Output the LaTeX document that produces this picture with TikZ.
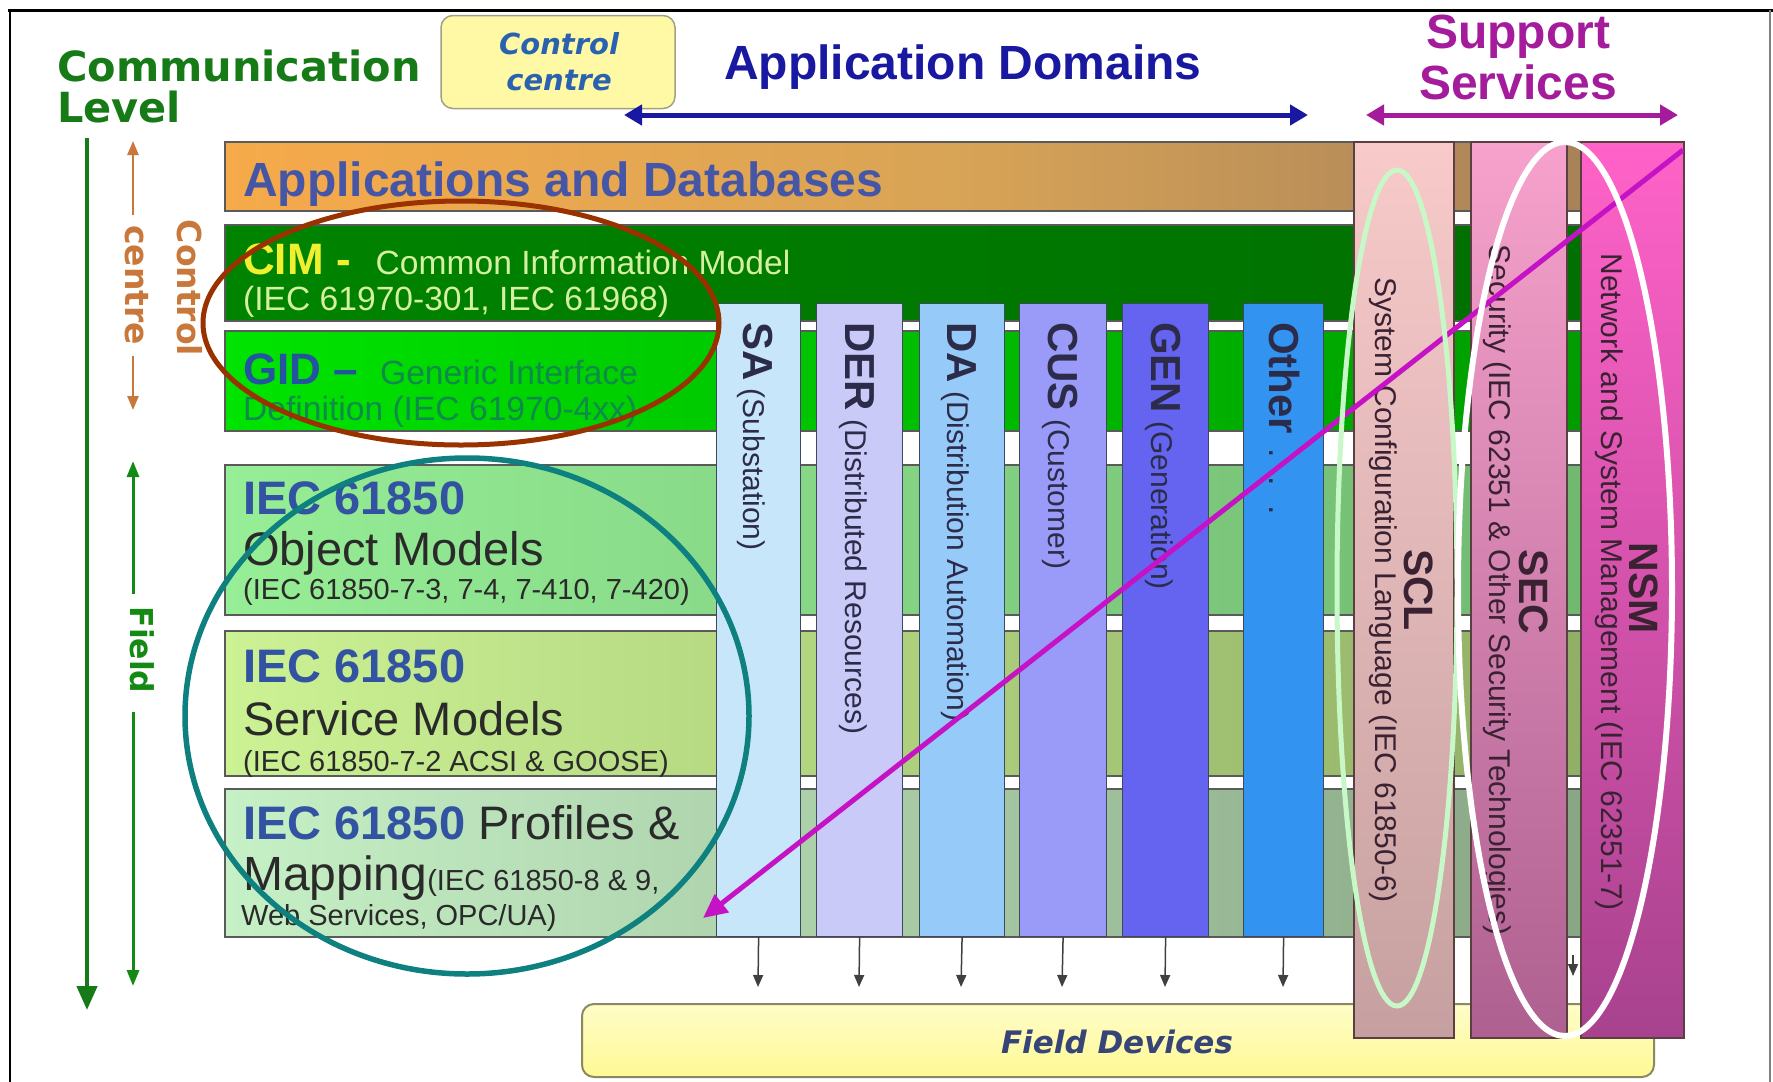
\documentclass[tikz,border=0pt]{standalone}
\usepackage{fontspec}
\setmainfont{Liberation Sans}
\newfontfamily\dvsans{DejaVu Sans}
\usetikzlibrary{arrows.meta}
\newcommand\myfs[1]{\fontsize{#1}{#1}\selectfont}
\definecolor{commgreen}{HTML}{167A16}
\definecolor{ctrlblue}{HTML}{2A62B0}
\definecolor{appblue}{HTML}{1818A0}
\definecolor{suppurple}{HTML}{A41C9C}
\definecolor{orangeC}{HTML}{C8783A}
\definecolor{fieldgreen}{HTML}{148A14}
\definecolor{barline}{HTML}{5A5A5A}
\definecolor{appsL}{HTML}{F6AA4A}
\definecolor{appsM}{HTML}{D8A456}
\definecolor{appsR}{HTML}{A07C5A}
\definecolor{appsText}{HTML}{4656A6}
\definecolor{cimL}{HTML}{008400}
\definecolor{cimR}{HTML}{006E00}
\definecolor{cimY}{HTML}{F0F030}
\definecolor{cimT}{HTML}{D4F0A0}
\definecolor{gidL}{HTML}{00E400}
\definecolor{gidR}{HTML}{009600}
\definecolor{gidB}{HTML}{2454A0}
\definecolor{gidT}{HTML}{0E8A4A}
\definecolor{objL}{HTML}{96EE96}
\definecolor{objR}{HTML}{6EB46E}
\definecolor{srvL}{HTML}{CCF294}
\definecolor{srvR}{HTML}{8CAA62}
\definecolor{prfL}{HTML}{C6F0C6}
\definecolor{prfR}{HTML}{84A080}
\definecolor{iecblue}{HTML}{3252A2}
\definecolor{darktxt}{HTML}{2A2A2A}
\definecolor{saC}{HTML}{C8E6FA}
\definecolor{derC}{HTML}{CACAF8}
\definecolor{daC}{HTML}{96CAF8}
\definecolor{cusC}{HTML}{9A9AF8}
\definecolor{genC}{HTML}{6464F0}
\definecolor{othC}{HTML}{3294F0}
\definecolor{colline}{HTML}{3E4A5A}
\definecolor{coltxt}{HTML}{2C2C4A}
\definecolor{sclT}{HTML}{F8CACA}
\definecolor{sclB}{HTML}{C6A0A0}
\definecolor{secT}{HTML}{F6A2CC}
\definecolor{secB}{HTML}{AE6090}
\definecolor{nsmT}{HTML}{FF62C8}
\definecolor{nsmB}{HTML}{A8428E}
\definecolor{suptext}{HTML}{3A2233}
\definecolor{supline}{HTML}{5A4040}
\definecolor{magentaC}{HTML}{C412C4}
\definecolor{ellBrown}{HTML}{9A3200}
\definecolor{ellTeal}{HTML}{0E8080}
\definecolor{ellGreen}{HTML}{C8F8C8}
\definecolor{fdFill}{HTML}{FFF994}
\definecolor{fdTop}{HTML}{FFFCC8}
\definecolor{fdBorder}{HTML}{8A8A62}
\definecolor{fdText}{HTML}{364478}
\definecolor{ccFill}{HTML}{FFF9A6}
\definecolor{ccBorder}{HTML}{A0A082}
\definecolor{arrgray}{HTML}{404040}
\begin{document}
\begin{tikzpicture}[x=1pt,y=-1pt,
  bar/.style={draw=barline,line width=1.5pt,anchor=north west,inner sep=0pt,minimum width=1459pt},
  dcol/.style={draw=colline,line width=1.2pt,anchor=north west,inner sep=0pt,minimum height=633pt},
  scol/.style={draw=supline,line width=1.5pt,anchor=north west,inner sep=0pt,minimum height=896pt},
  coltext/.style={rotate=-90,anchor=base west,inner sep=0pt,text=coltxt,font=\myfs{30}},
  suptitle/.style={rotate=-90,anchor=base,inner sep=0pt,text=suptext,font=\bfseries\myfs{41}},
  supsub/.style={rotate=-90,anchor=base,inner sep=0pt,text=suptext,font=\myfs{30}},
  lbl/.style={anchor=base west,inner sep=0pt},
  sidelbl/.style={rotate=-90,anchor=base,inner sep=0pt,font=\dvsans\bfseries\myfs{33}},
  dnarr/.style={draw=arrgray,line width=1.5pt,-{Triangle[length=12pt,width=10pt]}},
  dblarr/.style={line width=5pt,{Triangle[length=18pt,width=20pt]}-{Triangle[length=18pt,width=20pt]}},
  ell/.style={line width=5pt}
]
\useasboundingbox (0,0) rectangle (1773,1082);
\fill[white] (0,0) rectangle (1773,1082);

% frame
\draw[line width=3pt] (8,10) -- (1773,10);
\draw[line width=1.5pt] (10,10) -- (10,1082);
\draw[line width=1.5pt,gray] (1770,10) -- (1770,1082);

% titles
\node[lbl,text=commgreen,font=\dvsans\bfseries\myfs{41.5}] (tComm) at (57,81) {Communication};
\node[lbl,text=commgreen,font=\dvsans\bfseries\myfs{41.5}] (tLevel) at (57,122) {Level};
\node[draw=ccBorder,line width=1.5pt,fill=ccFill,rounded corners=12pt,minimum width=234pt,minimum height=93pt,inner sep=0pt] (ccbox) at (558,62) {};
\node[anchor=base,inner sep=0pt,text=ctrlblue,font=\dvsans\bfseries\itshape\myfs{29}] (tCtl) at (559,54) {Control};
\node[anchor=base,inner sep=0pt,text=ctrlblue,font=\dvsans\bfseries\itshape\myfs{29}] (tCtr) at (559,90) {centre};
\node[lbl,text=appblue,font=\bfseries\myfs{48}] (tAppDom) at (724,79) {Application Domains};
\node[anchor=base,inner sep=0pt,text=suppurple,font=\bfseries\myfs{48}] (tSup) at (1518,48) {Support};
\node[anchor=base,inner sep=0pt,text=suppurple,font=\bfseries\myfs{48}] (tServ) at (1518,99) {Services};
\coordinate (adL) at (624,115); \coordinate (adR) at (1308,115);
\draw[dblarr,appblue] (adL) -- (adR);
\coordinate (ssL) at (1366,115); \coordinate (ssR) at (1678,115);
\draw[dblarr,suppurple] (ssL) -- (ssR);

% left level arrows
\coordinate (clTop) at (87,138); \coordinate (clBot) at (87,1010);
\draw[line width=4.5pt,commgreen,-{Triangle[length=24pt,width=20pt]}] (clTop) -- (clBot);
\node[sidelbl,text=orangeC] (tCentre) at (125,285) {centre};
\node[sidelbl,text=orangeC] (tControl) at (177,288) {Control};
\coordinate (ccA) at (133,215); \coordinate (ccUp) at (133,141);
\coordinate (ccB) at (133,356); \coordinate (ccDown) at (133,410);
\draw[orangeC,line width=2.5pt,-{Triangle[length=14pt,width=11pt]}] (ccA) -- (ccUp);
\draw[orangeC,line width=2.5pt,-{Triangle[length=14pt,width=11pt]}] (ccB) -- (ccDown);
\node[sidelbl,text=fieldgreen,font=\dvsans\bfseries\myfs{31.5}] (tField) at (130,650) {Field};
\coordinate (fA) at (133,594); \coordinate (fUp) at (133,461);
\coordinate (fB) at (133,712); \coordinate (fDown) at (133,986);
\draw[fieldgreen,line width=3pt,-{Triangle[length=16pt,width=12pt]}] (fA) -- (fUp);
\draw[fieldgreen,line width=3pt,-{Triangle[length=16pt,width=12pt]}] (fB) -- (fDown);

% horizontal layers
\node[bar,minimum height=69pt,left color=appsL,right color=appsR,middle color=appsM] (apps) at (224,141) {};
\node[bar,minimum height=96pt,left color=cimL,right color=cimR] (cim) at (224,224) {};
\node[bar,minimum height=100pt,left color=gidL,right color=gidR] (gid) at (224,330) {};
\node[bar,minimum height=150pt,left color=objL,right color=objR] (obj) at (224,464) {};
\node[bar,minimum height=145pt,left color=srvL,right color=srvR] (srv) at (224,630) {};
\node[bar,minimum height=148pt,left color=prfL,right color=prfR] (prf) at (224,788) {};

\node[lbl,text=appsText,font=\bfseries\myfs{48}] (tApps) at (243,196) {Applications and Databases};
\node[lbl] (tCim1) at (243,274) {{\bfseries\myfs{44}\color{cimY}CIM -}\hspace{25pt}{\myfs{33.6}\color{cimT}Common Information Model}};
\node[lbl,text=cimT,font=\myfs{33.6}] (tCim2) at (243,310) {(IEC 61970-301, IEC 61968)};
\node[lbl] (tGid1) at (243,384) {{\bfseries\myfs{44}\color{gidB}GID --}\hspace{22pt}{\myfs{33.6}\color{gidT}Generic Interface}};
\node[lbl,text=gidT,font=\myfs{33.6}] (tGid2) at (243,420) {Definition (IEC 61970-4xx)};
\node[lbl,text=iecblue,font=\bfseries\myfs{47}] (tObj1) at (243,514) {IEC 61850};
\node[lbl,text=darktxt,font=\myfs{47}] (tObj2) at (243,565) {Object Models};
\node[lbl,text=darktxt,font=\myfs{29}] (tObj3) at (243,599) {(IEC 61850-7-3, 7-4, 7-410, 7-420)};
\node[lbl,text=iecblue,font=\bfseries\myfs{47}] (tSrv1) at (243,682) {IEC 61850};
\node[lbl,text=darktxt,font=\myfs{47}] (tSrv2) at (243,735) {Service Models};
\node[lbl,text=darktxt,font=\myfs{29}] (tSrv3) at (243,771) {(IEC 61850-7-2 ACSI \& GOOSE)};
\node[lbl,text=darktxt,font=\myfs{47}] (tPrf1) at (243,839) {{\bfseries\color{iecblue}IEC 61850} Profiles \&};
\node[lbl,text=darktxt] (tPrf2) at (243,890) {{\myfs{48}Mapping}{\myfs{29}(IEC 61850-8 \& 9,}};
\node[lbl,text=darktxt,font=\myfs{29}] (tPrf3) at (241,925) {Web Services, OPC/UA)};

% field devices
\node[draw=fdBorder,line width=2pt,rounded corners=12pt,top color=fdTop,bottom color=fdFill,anchor=north west,minimum width=1072pt,minimum height=73pt,inner sep=0pt] (fd) at (581,1003) {};
\node[inner sep=0pt,text=fdText,font=\dvsans\bfseries\itshape\myfs{31}] (tFD) at (1117,1042) {Field Devices};

% domain columns
\node[dcol,fill=saC,minimum width=84pt] (sa) at (716,303) {};
\node[dcol,fill=derC,minimum width=86pt] (der) at (816,303) {};
\node[dcol,fill=daC,minimum width=85pt] (da) at (919,303) {};
\node[dcol,fill=cusC,minimum width=87pt] (cus) at (1019,303) {};
\node[dcol,fill=genC,minimum width=86pt] (gen) at (1122,303) {};
\node[dcol,fill=othC,minimum width=80pt] (oth) at (1243,303) {};
\node[coltext] (tSA) at (743,322) {{\bfseries\myfs{42}SA} (Substation)};
\node[coltext] (tDER) at (845,322) {{\bfseries\myfs{42}DER} (Distributed Resources)};
\node[coltext] (tDA) at (947,322) {{\bfseries\myfs{42}DA} (Distribution Automation)};
\node[coltext] (tCUS) at (1048,322) {{\bfseries\myfs{42}CUS} (Customer)};
\node[coltext] (tGEN) at (1151,322) {{\bfseries\myfs{42}GEN} (Generation)};
\node[coltext] (tOth) at (1269,322) {{\bfseries\myfs{42}Other}\hspace{14pt}{\myfs{34}.\hspace{19pt}.\hspace{19pt}.}};

\coordinate (fdA) at (758,987); \coordinate (fdB) at (859,987);
\coordinate (fdC) at (961,987); \coordinate (fdD) at (1062,987);
\coordinate (fdE) at (1165,987); \coordinate (fdF) at (1283,987);
\draw[dnarr] (sa.south) -- (fdA);
\draw[dnarr] (der.south) -- (fdB);
\draw[dnarr] (da.south) -- (fdC);
\draw[dnarr] (cus.south) -- (fdD);
\draw[dnarr] (gen.south) -- (fdE);
\draw[dnarr] (oth.south) -- (fdF);
\coordinate (gapA) at (1573,955); \coordinate (gapB) at (1573,976);
\draw[dnarr] (gapA) -- (gapB);

% support columns
\node[scol,top color=sclT,bottom color=sclB,minimum width=100pt] (scl) at (1353,141) {};
\node[scol,top color=secT,bottom color=secB,minimum width=96pt] (sec) at (1470,141) {};
\node[scol,top color=nsmT,bottom color=nsmB,minimum width=103pt] (nsm) at (1580,141) {};
\node[suptitle] (tSCL) at (1404,590) {SCL};
\node[supsub] (tSCLs) at (1375,590) {System Configuration Language (IEC 61850-6)};
\node[suptitle] (tSEC) at (1519,592) {SEC};
\node[supsub] (tSECs) at (1489,590) {Security (IEC 62351 \& Other Security Technologies)};
\node[suptitle] (tNSM) at (1629,588) {NSM};
\node[supsub] (tNSMs) at (1601,582) {Network and System Management (IEC 62351-7)};

% diagonal arrow
\coordinate (magS) at (1683,150); \coordinate (magE) at (703,918);
\draw[magentaC,line width=5pt,-{Triangle[length=24pt,width=22pt]}] (magS) -- (magE);

% highlight ellipses
\draw[ell,ellBrown] (461,323) ellipse [x radius=258,y radius=122];
\draw[ell,ellTeal,line width=5.5pt] (467,716) ellipse [x radius=282,y radius=258];
\draw[ell,ellGreen] (1397,588) ellipse [x radius=60,y radius=418];
\draw[ell,white,line width=6pt] (1565,589) ellipse [x radius=107,y radius=447];
\end{tikzpicture}
\end{document}
